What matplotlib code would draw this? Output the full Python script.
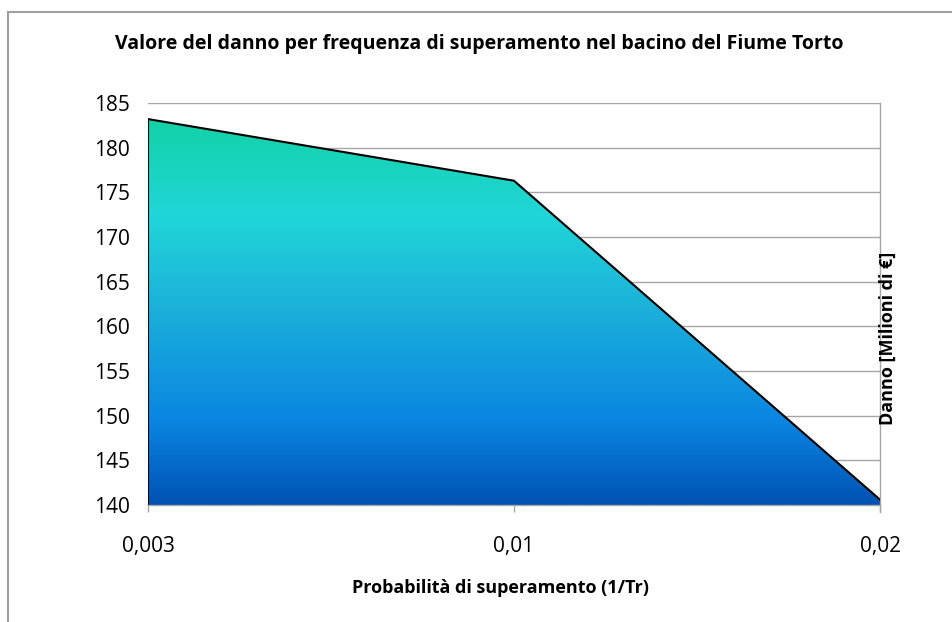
import numpy as np
import matplotlib
matplotlib.use('Agg')
import matplotlib.pyplot as plt
from matplotlib.colors import LinearSegmentedColormap
from matplotlib.patches import Polygon
from matplotlib.lines import Line2D

# exceedance probability categories and damage values (million EUR)
prob_labels = ['0,003', '0,01', '0,02']
damage = [183.2, 176.3, 140.6]

title = 'Valore del danno per frequenza di superamento nel bacino del Fiume Torto'
xlabel = 'Probabilità di superamento (1/Tr)'
ylabel = 'Danno [Milioni di €]'

plt.rcParams['font.family'] = 'Open Sans'
plt.rcParams['font.size'] = 13

fig = plt.figure(figsize=(9.53, 6.22), dpi=100)
ax = fig.add_axes([0.1553, 0.1881, 0.7681, 0.6463])

x = np.arange(len(damage))
ymin, ymax = 140, 185

# gradient fill clipped to the area polygon
cmap = LinearSegmentedColormap.from_list('ocean_fill', [
    (0.0, '#12d2a6'),
    (0.25, '#20d6d8'),
    (0.5, '#1bafda'),
    (0.78, '#0a86e2'),
    (1.0, '#0052b2'),
])
grad = np.linspace(0, 1, 256).reshape(-1, 1)
verts = [(x[0], ymin)] + list(zip(x, damage)) + [(x[-1], ymin)]
poly = Polygon(verts, closed=True, facecolor='none', edgecolor='none')
ax.add_patch(poly)
img = ax.imshow(grad, cmap=cmap, aspect='auto', origin='upper',
                extent=[x[0], x[-1], ymin, max(damage)], zorder=2)
img.set_clip_path(poly)

# outline along the top and left edge
ax.plot([x[0]] + list(x), [ymin] + damage, color='black', lw=1.5,
        zorder=3, solid_joinstyle='miter')

ax.set_xlim(x[0], x[-1])
ax.set_ylim(ymin, ymax)
ax.set_yticks(np.arange(ymin, ymax + 1, 5))
ax.set_xticks(x)
ax.set_xticklabels(prob_labels)
ax.grid(axis='y', color='#a6a6a6', lw=1)
ax.set_axisbelow(True)

for side in ['top', 'left']:
    ax.spines[side].set_visible(False)
for side in ['bottom', 'right']:
    ax.spines[side].set_color('#a6a6a6')
    ax.spines[side].set_linewidth(1)
ax.spines['right'].set_bounds(ymin - 0.8, ymax)

ax.tick_params(axis='y', length=0, pad=13, labelsize=15)
ax.tick_params(axis='x', length=5, width=1, color='#a6a6a6', pad=17,
               labelsize=15)

fig.text(0.503, 0.929, title, ha='center', va='center',
         fontsize=14, fontweight='bold')
fig.text(0.525, 0.0547, xlabel, ha='center', va='center',
         fontsize=13, fontweight='bold')
fig.text(0.932, 0.4566, ylabel, ha='center', va='center', rotation=90,
         fontsize=13, fontweight='bold')

# chart frame
fig.add_artist(Line2D([8.5 / 953, 8.5 / 953], [0, 1 - 12 / 622],
                      color='#a0a0a0', lw=1.5))
fig.add_artist(Line2D([8.5 / 953, 1], [1 - 12 / 622, 1 - 12 / 622],
                      color='#a0a0a0', lw=1.5))

fig.savefig('out.png', dpi=100)
